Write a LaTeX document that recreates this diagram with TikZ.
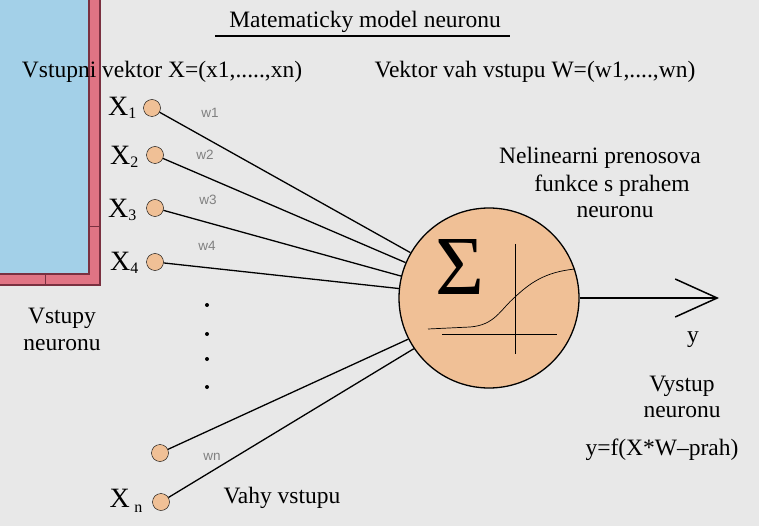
\documentclass[tikz,border=0pt]{standalone}
\usepackage{fontspec}
\setmainfont{Liberation Serif}
\setsansfont{Liberation Sans}
\usepackage{xcolor}
\usetikzlibrary{arrows.meta}
\definecolor{peach}{HTML}{F0C096}
\definecolor{bgray}{HTML}{E8E8E8}
\definecolor{skyblue}{HTML}{A3D0E8}
\definecolor{rosebar}{HTML}{E07484}
\definecolor{rosedark}{HTML}{7A3040}
\newcommand{\Xsub}[1]{X{\fontsize{16}{16}\selectfont\raisebox{-0.4ex}{#1}}}

\begin{document}
\begin{tikzpicture}[x=1pt,y=-1pt,
  inp/.style={circle,draw,fill=peach,minimum size=17pt,inner sep=0pt},
  txt/.style={font=\fontsize{23.5}{26}\selectfont,align=center},
  xlbl/.style={font=\fontsize{28}{28}\selectfont,anchor=east},
  wlbl/.style={font=\sffamily\fontsize{13.5}{13.5}\selectfont,text=black!50}]
\useasboundingbox[fill=bgray] (0,0) rectangle (759,526);
% panel on the left
\fill[rosedark] (0,0) rectangle (101,286);
\fill[rosebar] (0,0) rectangle (99,284);
\fill[rosedark] (0,0) rectangle (90,275);
\fill[skyblue] (0,0) rectangle (88,273);
\draw[rosedark] (90,226) -- (99,226);
\draw[rosedark] (45,275) -- (45,284);
%
\draw (365,22) node[txt]{Matematicky model neuronu};
\draw[line width=1.5pt] (215,36) -- (510,36);
\draw (162,72) node[txt]{Vstupni vektor X=(x1,.....,xn)};
\draw (535,72) node[txt]{Vektor vah vstupu W=(w1,....,wn)};
%
\node[inp] (x1) at (152,108) {};
\node[inp] (x2) at (155,155) {};
\node[inp] (x3) at (155,208) {};
\node[inp] (x4) at (155,262) {};
\node[inp] (x5) at (160,453) {};
\node[inp] (xn) at (161,502) {};
\draw (140,108) node[xlbl]{\Xsub{1}};
\draw (142,157) node[xlbl]{\Xsub{2}};
\draw (140,210) node[xlbl]{\Xsub{3}};
\draw (142,263) node[xlbl]{\Xsub{4}};
\draw (146,501) node[xlbl]{X\,{\fontsize{16}{16}\selectfont\raisebox{-0.7ex}{n}}};
%
\node[circle,draw,line width=1.3pt,fill=peach,minimum size=180pt] (neuron) at (489,298) {};
\draw[line width=1.3pt] (x1) -- (neuron.150);
\draw[line width=1.3pt] (x2) -- (neuron.157);
\draw[line width=1.3pt] (x3) -- (neuron.166);
\draw[line width=1.3pt] (x4) -- (neuron.174);
\draw[line width=1.3pt] (x5) -- (neuron.207);
\draw[line width=1.3pt] (xn) -- (neuron.214);
%
\draw (210,113) node[wlbl]{w1};
\draw (205,155) node[wlbl]{w2};
\draw (208,200) node[wlbl]{w3};
\draw (207,246) node[wlbl]{w4};
\draw (212,457) node[wlbl]{wn};
\foreach \y in {305,334,359,387}
  \fill (207,\y) circle (2pt);
% inside the neuron
\draw (460,267) node[font=\fontsize{84}{84}\selectfont]{Σ};
\draw (515,244) -- (515,354);
\draw (442,334) -- (557,334);
\draw[line width=0.7pt] (428,329) -- (470,327) .. controls (495,325) and (500,310) .. (515,297)
  .. controls (530,283) and (545,272) .. (575,269);
% output
\coordinate (out) at (719,298);
\draw[line width=1.5pt,-{Straight Barb[length=42pt,width=38pt]}] (neuron.east) -- (out);
%
\draw (62,318) node[txt]{Vstupy};
\draw (62,345) node[txt]{neuronu};
\draw (600,158) node[txt]{Nelinearni prenosova};
\draw (612,186) node[txt]{funkce s prahem};
\draw (615,212) node[txt]{neuronu};
\draw (693,340) node[txt]{y};
\draw (682,386) node[txt]{Vystup};
\draw (682,412) node[txt]{neuronu};
\draw (662,450) node[txt]{y=f(X*W–prah)};
\draw (282,498) node[txt]{Vahy vstupu};
\end{tikzpicture}
\end{document}
